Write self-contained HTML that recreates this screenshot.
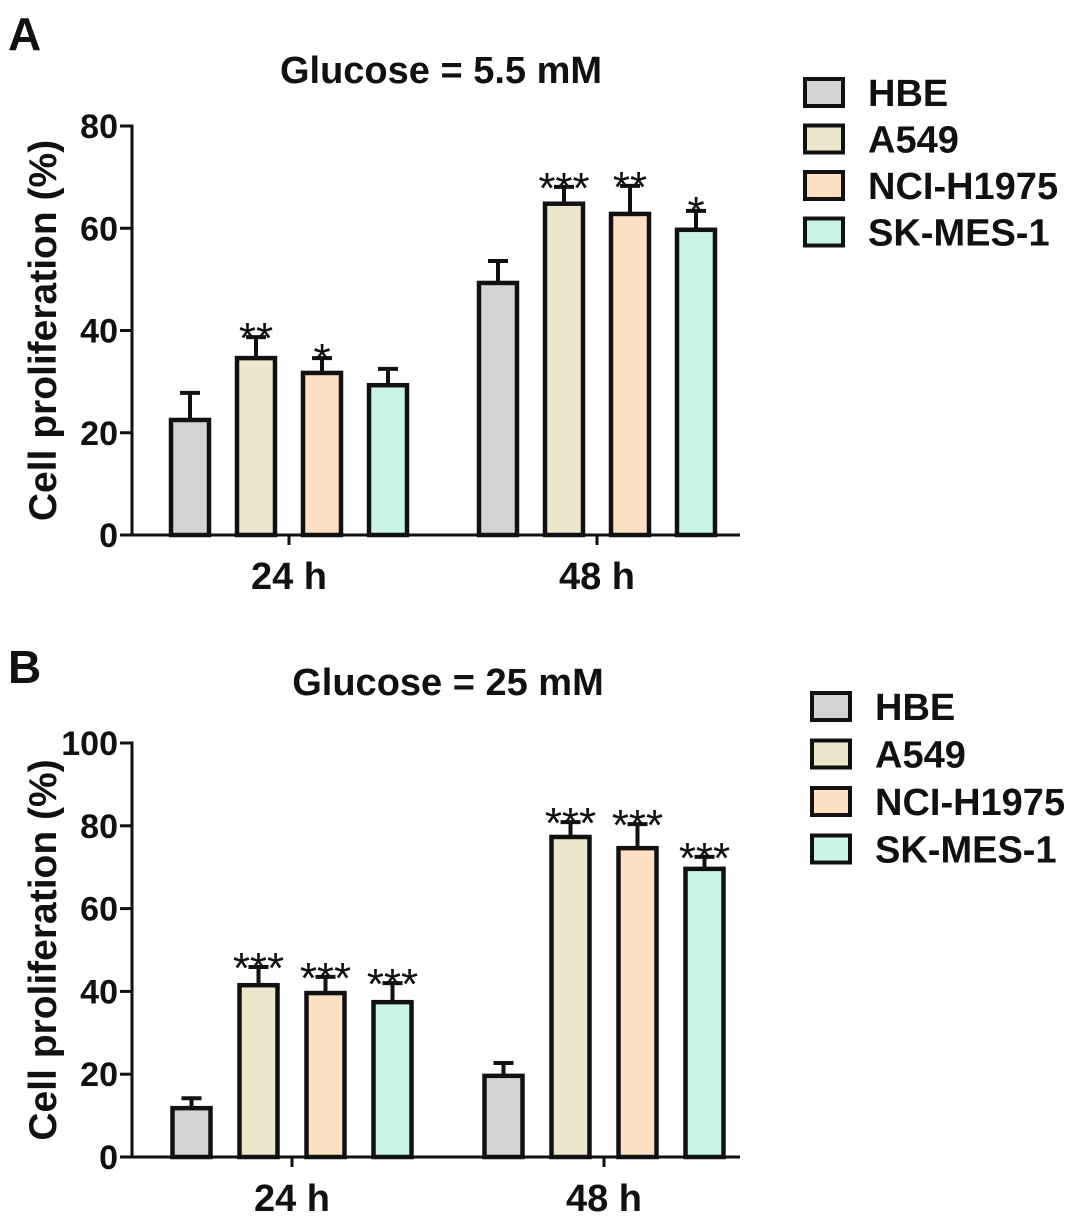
<!DOCTYPE html>
<html><head><meta charset="utf-8"><style>
body{margin:0;background:#fff}
svg text{font-family:"Liberation Sans",Arial,sans-serif;font-weight:bold;fill:#111}
</style></head><body>
<svg id="fig" width="1087" height="1224" xmlns="http://www.w3.org/2000/svg"></svg>
<script>
const series = ["HBE","A549","NCI-H1975","SK-MES-1"];
const groups = ["24 h","48 h"];
const colors = ["#d4d4d4","#ebe6cc","#fde0c3","#c9f4e6"];
const meanA = [[22.5,34.6,31.7,29.3],[49.3,64.8,62.8,59.7]];
const errA = [[27.8,38.7,34.6,32.5],[53.6,68.1,68.3,63.4]];
const sigA = [["","**","*",""],["","***","**","*"]];
const ticksA = [0,20,40,60,80];
const meanB = [[11.8,41.5,39.6,37.4],[19.6,77.3,74.6,69.6]];
const errB = [[14.2,45.9,43.5,42.0],[22.7,80.9,80.4,72.5]];
const sigB = [["","***","***","***"],["","***","***","***"]];
const ticksB = [0,20,40,60,80,100];

const NS="http://www.w3.org/2000/svg";
const svg=document.getElementById('fig');
function el(tag,attrs,parent){const e=document.createElementNS(NS,tag);for(const k in attrs)e.setAttribute(k,attrs[k]);(parent||svg).appendChild(e);return e;}

function panel(cfg){
  const g=el('g',{});
  
  
  const y=v=>cfg.y0-(v/cfg.ymax)*(cfg.y0-cfg.ytop);
  const L=el('text',{x:8,y:cfg.letterY,'font-size':46},g);L.textContent=cfg.letter;
  
  const t=el('text',{x:cfg.titleX,y:cfg.titleY,'font-size':38,'text-anchor':'middle'},g);t.textContent=cfg.title;
  
  const yl=el('text',{x:0,y:0,'font-size':39,'text-anchor':'middle',transform:`translate(56,${(cfg.y0+cfg.ytop)/2}) rotate(-90)`},g);yl.textContent='Cell proliferation (%)';
  
  const ya=el('line',{x1:cfg.ax,y1:cfg.ytop-1.5,x2:cfg.ax,y2:cfg.y0,stroke:'#111','stroke-width':3},g);
  
  const xa=el('line',{x1:cfg.ax-12,y1:cfg.y0,x2:cfg.axEnd,y2:cfg.y0,stroke:'#111','stroke-width':3},g);
  
  cfg.ticks.forEach(v=>{
    el('line',{x1:cfg.ax-12,y1:y(v),x2:cfg.ax,y2:y(v),stroke:'#111','stroke-width':3},g);
    const tl=el('text',{x:cfg.ax-14,y:y(v)+12,'font-size':34,'text-anchor':'end'},g);tl.textContent=v;
    
  });
  groups.forEach((gn,gi)=>{
    const cx=cfg.gx[gi];
    el('line',{x1:cx,y1:cfg.y0,x2:cx,y2:cfg.y0+10,stroke:'#111','stroke-width':3},g);
    const xl=el('text',{x:cx,y:cfg.y0+54,'font-size':38,'text-anchor':'middle'},g);xl.textContent=gn;
    
    series.forEach((s,si)=>{
      const bx=cx+(si-1.5)*cfg.step-cfg.bw/2;
      const m=cfg.mean[gi][si],e=cfg.err[gi][si];
      const cxb=bx+cfg.bw/2;
      el('line',{x1:cxb,y1:y(m),x2:cxb,y2:y(e),stroke:'#111','stroke-width':4},g);
      el('line',{x1:cxb-10,y1:y(e),x2:cxb+10,y2:y(e),stroke:'#111','stroke-width':4},g);
      const r=el('rect',{x:bx,y:y(m),width:cfg.bw,height:cfg.y0-y(m),fill:colors[si],stroke:'#111','stroke-width':4.5},g);
      
      
      if(cfg.sig[gi][si]){
        const st=el('text',{x:cxb,y:y(e)+16,'font-size':44,'text-anchor':'middle',style:'font-weight:normal'},g);
        st.textContent=cfg.sig[gi][si];
        
      }
    });
  });
  series.forEach((s,si)=>{
    const ly=cfg.legY+si*cfg.legStep;
    const lg=el('g',{},g);
    
    el('rect',{x:cfg.legX,y:ly-13,width:38,height:27,fill:colors[si],stroke:'#111','stroke-width':4},lg);
    const lt=el('text',{x:cfg.legX+63,y:ly+14,'font-size':38},lg);lt.textContent=s;
  });
}
panel({name:'panel-a',letter:'A',letterY:50,title:'Glucose = 5.5 mM',titleX:441,titleY:83,
  y0:535,ytop:126,ymax:80,ticks:ticksA,ax:132,axEnd:740,gx:[289,597],step:66,bw:38,
  mean:meanA,err:errA,sig:sigA,legX:805,legY:92,legStep:46.5});
panel({name:'panel-b',letter:'B',letterY:683,title:'Glucose = 25 mM',titleX:448,titleY:695,
  y0:1157,ytop:743,ymax:100,ticks:ticksB,ax:132,axEnd:740,gx:[292,604],step:67,bw:38,
  mean:meanB,err:errB,sig:sigB,legX:812,legY:706,legStep:47.5});
</script>
</body></html>
